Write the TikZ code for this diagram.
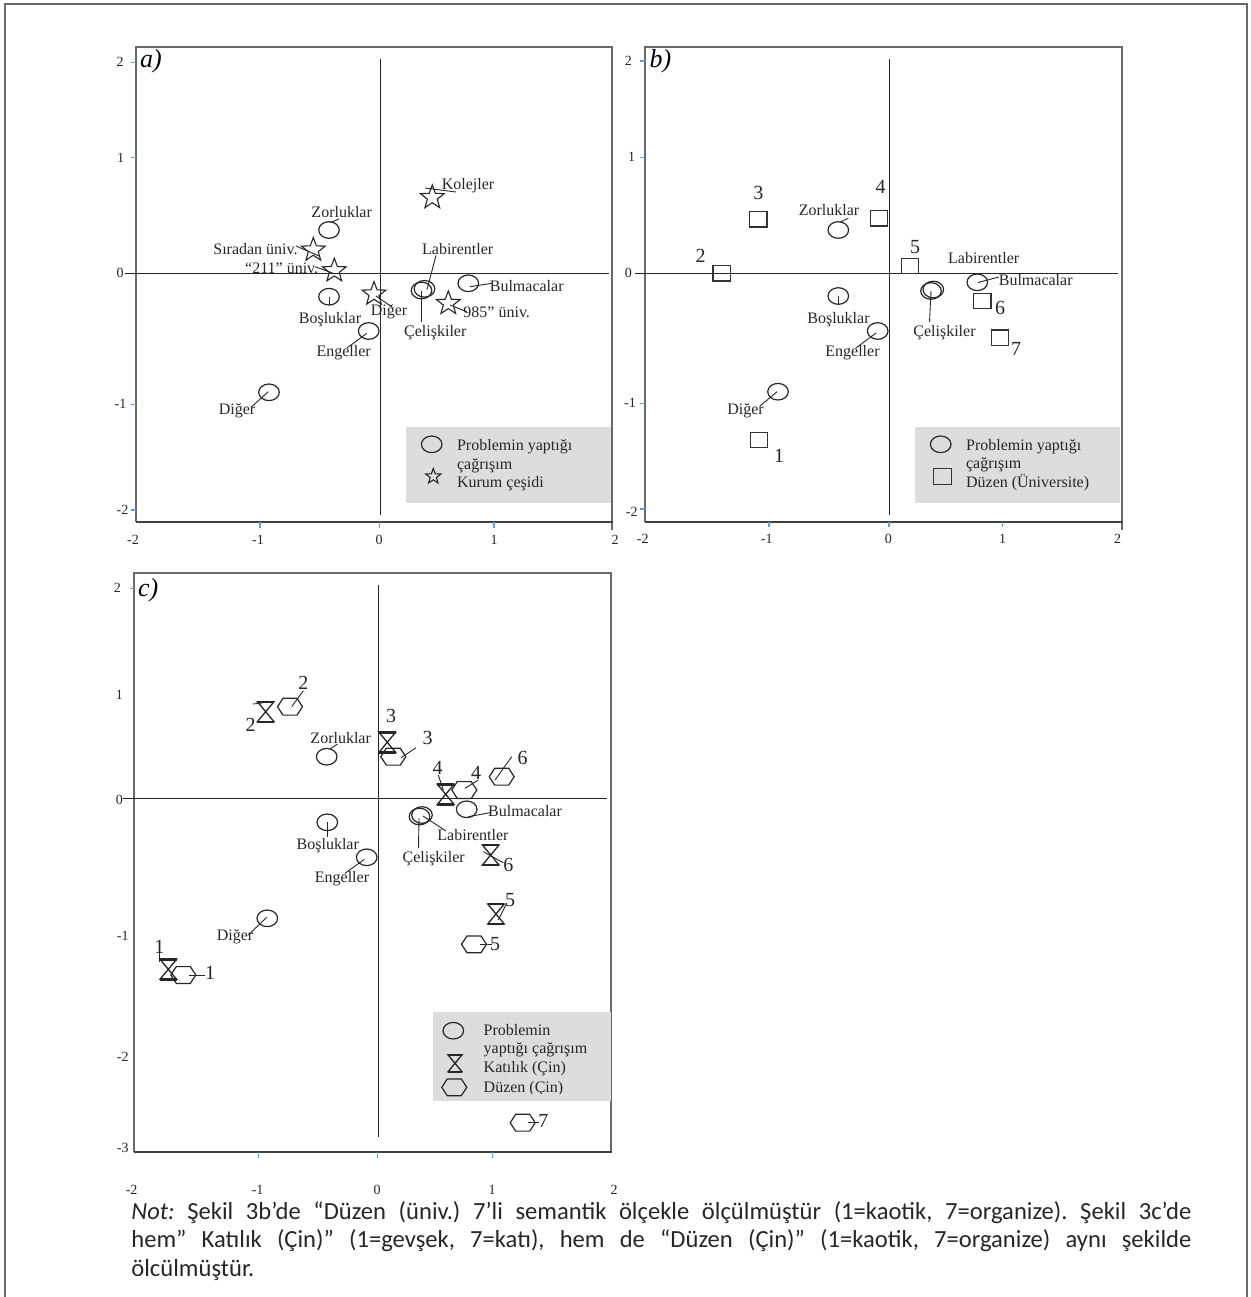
\documentclass[tikz,border=0pt]{standalone}
\usepackage{fontspec}
\setmainfont{Liberation Serif}
\newfontfamily\notefont{Carlito}
\usetikzlibrary{shapes.geometric}
\definecolor{framegray}{RGB}{105,105,105}
\definecolor{tickblue}{RGB}{100,160,225}
\definecolor{leggray}{RGB}{220,221,223}
\frenchspacing
\tikzset{
 frm/.style={draw=framegray, line width=1pt},
 baseax/.style={draw=black!75, line width=1pt},
 ax/.style={draw=black!85, line width=0.6pt},
 tk/.style={draw=tickblue, line width=0.6pt},
 ticklbl/.style={font=\fontsize{7}{8}\selectfont, text=black!85, inner sep=0pt},
 lbl/.style={font=\fontsize{8}{9}\selectfont, text=black!85, inner sep=0pt, text height=5.5pt, text depth=0.8pt},
 numlbl/.style={font=\fontsize{10}{11}\selectfont, text=black!85, inner sep=0pt},
 panlbl/.style={font=\fontsize{13}{14}\selectfont\itshape, inner sep=0pt},
 leg/.style={fill=leggray, draw=none},
 legtxt/.style={font=\fontsize{8}{9}\selectfont, text=black!85, inner sep=0pt, anchor=west, text height=5.5pt, text depth=0.8pt},
 ell/.style={ellipse, draw=black!85, line width=0.6pt, minimum width=10.3pt, minimum height=8.3pt, inner sep=0pt},
 sq/.style={rectangle, draw=black!80, line width=0.7pt, minimum width=8.7pt, minimum height=7.7pt, inner sep=0pt},
 strs/.style={star, star points=5, star point ratio=2.4, draw=black!85, line width=0.55pt, minimum size=12.5pt, inner sep=0pt},
 leader/.style={draw=black!85, line width=0.45pt},
 hexa/.pic={\draw[draw=black!85, line width=0.6pt] (-12.5,0)--(-7,-8.4)--(7,-8.4)--(12.5,0)--(7,8.4)--(-7,8.4)--cycle;},
 hglass/.pic={\draw[draw=black!85, line width=0.65pt] (-8.3,-10)--(8.3,-10)--(-8.3,10)--(8.3,10)--cycle;
   \draw[line width=1.2pt, black!85] (-8.3,-10)--(8.3,-10) (-8.3,10)--(8.3,10);},
}
\begin{document}
\begin{tikzpicture}[x=0.5pt,y=-0.5pt]
\useasboundingbox (0,0) rectangle (1250,1297);
% outer frame
\draw[frm] (5,1297)--(5,3.5)--(1246.5,3.5)--(1246.5,1297);

%%%%%%%%%%%%%%%% PANEL A
\draw[frm] (135.7,522)--(135.7,46.7)--(611.7,46.7)--(611.7,530);
\draw[baseax] (135.7,522)--(612.5,522);
\foreach \y in {62.3,157.7,404.3,510} \draw[tk] (131,\y)--(135.7,\y);
\foreach \x in {260,379.3,494} \draw[tk] (\x,522)--(\x,527.5);
\foreach \t/\x/\y [count=\i] in {2/120/62.3,1/120.5/157.7,0/120/273.3,-1/120.5/404.3,-2/122.5/510}
  \node[ticklbl] (tya\i) at (\x,\y) {\t};
\foreach \t/\x [count=\i] in {-2/133,-1/258,0/379,1/494,2/615}
  \node[ticklbl] (txa\i) at (\x,540) {\t};
\node[panlbl] (pa) at (151,61) {a)};
\draw[ax] (380.5,59.3)--(380.5,515);
\draw[ax] (125,273.5)--(609,273.5);
% symbols
\node[ell] (zorA) at (329,230) {};
\node[ell] (bosA) at (329,296.7) {};
\node[ell] (engA) at (368.7,331) {};
\node[ell] (digA) at (269,392.3) {};
\node[ell] (bulA) at (468.3,283.3) {};
\node[ell] (labA) at (421.5,290.5) {};
\node[ell] (celA) at (424.5,288.8) {};
\node[strs] (kolA) at (432.3,197.5) {};
\node[strs] (sirA) at (313.3,250) {};
\node[strs] (uA) at (334.3,270.7) {};
\node[strs] (diA) at (374,294) {};
\node[strs] (nA) at (448.3,303.4) {};
% labels
\node[lbl] (kolAl) at (468,185) {Kolejler};
\node[lbl] (zorAl) at (341.7,212.7) {Zorluklar};
\node[lbl] (sirAl) at (255.5,249.3) {Sıradan üniv.};
\node[lbl] (uAl) at (281.7,268.3) {“211” üniv.};
\node[lbl] (bulAl) at (526.7,286.7) {Bulmacalar};
\node[lbl] (labAl) at (457.7,250) {Labirentler};
\node[lbl] (celAl) at (435.3,332) {Çelişkiler};
\node[lbl] (diAl) at (389,311) {Diğer};
\node[lbl] (nAl) at (496.7,312.3) {985” üniv.};
\node[lbl] (bosAl) at (330,319) {Boşluklar};
\node[lbl] (engAl) at (343.7,351.7) {Engeller};
\node[lbl] (digAl) at (237,410) {Diğer};
% leaders
\draw[leader] (425,188)--(456,192);
\draw[leader] (330,222.7)--(339,219);
\draw[leader] (296,246)--(319,256);
\draw[leader] (315,266.7)--(333.3,273.3);
\draw[leader] (470,286.7)--(491.7,283.3);
\draw[leader] (436,255.5)--(427,289.5);
\draw[leader] (421,291)--(421,322);
\draw[leader] (376,296)--(392,307);
\draw[leader] (450,305)--(466.7,311.7);
\draw[leader] (bosA.center)--(329,305);
\draw[leader] (366.7,333.3)--(346.7,348.3);
\draw[leader] (268.3,391.7)--(251.7,406.7);
% legend
\path[leg] (406,427.3) rectangle (610.7,503.3);
\node[ell] (lgEa) at (431.7,444.3) {};
\node[strs, minimum size=8pt] (lgSa) at (433.3,476.5) {};
\node[legtxt] (lgT1a) at (456.7,445.7) {Problemin yaptığı};
\node[legtxt] (lgT2a) at (456.7,464.3) {çağrışım};
\node[legtxt] (lgT3a) at (456.7,482.7) {Kurum çeşidi};

%%%%%%%%%%%%%%%% PANEL B
\draw[frm] (645,521.7)--(645,46.7)--(1121.7,46.7)--(1121.7,530);
\draw[baseax] (645,521.7)--(1122.5,521.7);
\foreach \y in {61,157.3,403.3,509} \draw[tk] (640.3,\y)--(645,\y);
\foreach \x in {769,889,1002.7} \draw[tk] (\x,521.7)--(\x,527.2);
\foreach \t/\x/\y [count=\i] in {2/628.3/61,1/631.7/157.3,0/628.3/273.3,-1/630/403.3,-2/631.7/511.7}
  \node[ticklbl] (tyb\i) at (\x,\y) {\t};
\foreach \t/\x [count=\i] in {-2/642.7,-1/766.7,0/888.3,1/1002.7,2/1117.7}
  \node[ticklbl] (txb\i) at (\x,538.5) {\t};
\node[panlbl] (pb) at (660.5,61.7) {b)};
\draw[ax] (889.5,59)--(889.5,515);
\draw[ax] (635,273.5)--(1118,273.5);
% squares
\node[sq] (s3B) at (758.3,219.3) {};
\node[sq] (s4B) at (879,218.3) {};
\node[sq] (s2B) at (721.7,273.3) {};
\node[sq] (s5B) at (910,266) {};
\node[sq] (s6B) at (982.3,301) {};
\node[sq] (s7B) at (1000,337.7) {};
\node[sq] (s1B) at (759,440) {};
\node[numlbl] (n3B) at (758.3,193.3) {3};
\node[numlbl] (n4B) at (880.7,186.7) {4};
\node[numlbl] (n2B) at (700.7,256) {2};
\node[numlbl] (n5B) at (915,246.7) {5};
\node[numlbl] (n6B) at (1000,308.3) {6};
\node[numlbl] (n7B) at (1016,349.3) {7};
\node[numlbl] (n1B) at (779,455.7) {1};
% ellipses
\node[ell] (zorB) at (838.3,230) {};
\node[ell] (bosB) at (838.3,296) {};
\node[ell] (engB) at (877.7,331) {};
\node[ell] (digB) at (778,391.7) {};
\node[ell] (bulB) at (977.3,282.3) {};
\node[ell] (labB) at (931,291) {};
\node[ell] (celB) at (933.3,289.5) {};
% labels
\node[lbl] (zorBl) at (829,211) {Zorluklar};
\node[lbl] (labBl) at (983.7,258.3) {Labirentler};
\node[lbl] (bulBl) at (1035.7,280.7) {Bulmacalar};
\node[lbl] (celBl) at (944.5,332) {Çelişkiler};
\node[lbl] (bosBl) at (838.5,319) {Boşluklar};
\node[lbl] (engBl) at (852.5,351.7) {Engeller};
\node[lbl] (digBl) at (745.5,410) {Diğer};
% leaders
\draw[leader] (840,222)--(848.3,218.3);
\draw[leader] (978,282.5)--(999,277);
\draw[leader] (931,291)--(929.5,322);
\draw[leader] (bosB.center)--(838.3,305);
\draw[leader] (876,333)--(856,348);
\draw[leader] (777,391.7)--(760,406);
% legend
\path[leg] (915,427.3) rectangle (1120,503.3);
\node[ell] (lgEb) at (940.7,444.3) {};
\node[sq, minimum width=9pt, minimum height=8pt] (lgSb) at (942.3,476.7) {};
\node[legtxt] (lgT1b) at (965.7,445.7) {Problemin yaptığı};
\node[legtxt] (lgT2b) at (965.7,464) {çağrışım};
\node[legtxt] (lgT3b) at (965.7,482.3) {Düzen (Üniversite)};

%%%%%%%%%%%%%%%% PANEL C
\draw[frm] (134.3,1152.3)--(134.3,573.3)--(610.7,573.3)--(610.7,1152.3);
\draw[baseax] (134.3,1152.3)--(612,1152.3);
\draw[tk] (129.5,588.3)--(134.3,588.3);
\foreach \x in {258.3,377.7,492.3} \draw[tk] (\x,1152.3)--(\x,1157.8);
\foreach \t/\x/\y [count=\i] in {2/117.3/588.3,1/119.3/695,0/119.3/800,-1/122.7/936,-2/122.7/1057.3,-3/122.7/1148.3}
  \node[ticklbl] (tyc\i) at (\x,\y) {\t};
\foreach \t/\x [count=\i] in {-2/131.6,-1/257.6,0/377,1/492,2/614}
  \node[ticklbl] (txc\i) at (\x,1190) {\t};
\node[panlbl] (pc) at (148.3,590) {c)};
\draw[ax] (378.5,585)--(378.5,1136.7);
\draw[ax] (123.3,798.5)--(607.3,798.5);
% hourglasses and hexagons
\foreach \n/\x/\y in {h2C/265.7/711.7,h3C/387.3/742.3,h4C/445.7/794.3,h6C/490.7/855,h5C/496/914,h1C/168.3/969.3}
  {\coordinate (\n) at (\x,\y); \pic at (\n) {hglass};}
\foreach \n/\x/\y in {x2C/290/706.7,x3C/393.3/756.7,x6C/501.7/776.7,x4C/464.3/790,x5C/474/944.3,x1C/183.3/975,x7C/522.7/1122.7}
  {\coordinate (\n) at (\x,\y); \pic at (\n) {hexa};}
% ellipses
\node[ell] (zorC) at (326.7,756.7) {};
\node[ell] (bulC) at (466.7,809.3) {};
\node[ell] (labC) at (419.5,816.5) {};
\node[ell] (celC) at (422,815) {};
\node[ell] (bosC) at (327.3,822.3) {};
\node[ell] (engC) at (366.7,857.3) {};
\node[ell] (digC) at (267.3,918.3) {};
% numbers
\node[numlbl] (nh2C) at (250.7,725) {2};
\node[numlbl] (nx2C) at (303.3,683.3) {2};
\node[numlbl] (nh3C) at (391,716) {3};
\node[numlbl] (nx3C) at (427.7,737.7) {3};
\node[numlbl] (nx6C) at (522.7,757.7) {6};
\node[numlbl] (nh4C) at (437.7,768.3) {4};
\node[numlbl] (nx4C) at (476,773.3) {4};
\node[numlbl] (nh6C) at (508.3,865) {6};
\node[numlbl] (nh5C) at (510,900) {5};
\node[numlbl] (nx5C) at (495,944.3) {5};
\node[numlbl] (nh1C) at (159.3,946.7) {1};
\node[numlbl] (nx1C) at (210,973.3) {1};
\node[numlbl] (nx7C) at (543.3,1121) {7};
% labels
\node[lbl] (zorCl) at (340.7,738.3) {Zorluklar};
\node[lbl] (bulCl) at (525,811.7) {Bulmacalar};
\node[lbl] (labCl) at (473,836) {Labirentler};
\node[lbl] (celCl) at (433.7,858) {Çelişkiler};
\node[lbl] (bosCl) at (327.8,845) {Boşluklar};
\node[lbl] (engCl) at (342,877.7) {Engeller};
\node[lbl] (digCl) at (235,936) {Diğer};
% leaders
\draw[leader] (253,704)--(262,703);
\draw[leader] (291.7,706.7)--(303.3,690.7);
\draw[leader] (401,757.7)--(416,747.7);
\draw[leader] (495,780)--(511.7,756.7);
\draw[leader] (438.3,775)--(443.3,790);
\draw[leader] (465,788.3)--(478.3,780);
\draw[leader] (468.3,816.7)--(490,812.7);
\draw[leader] (423,816)--(446,831);
\draw[leader] (419,818)--(418.5,848);
\draw[leader] (330,749)--(337.5,744);
\draw[leader] (bosC.center)--(327.3,836.5);
\draw[leader] (364.3,859.3)--(345,873.3);
\draw[leader] (483.3,851.7)--(503.3,862.7);
\draw[leader] (498.3,920)--(506.7,903.3);
\draw[leader] (480,944.3)--(491.7,944.3);
\draw[leader] (266.7,917.3)--(248.3,935);
\draw[leader] (159.3,953)--(159.3,962);
\draw[leader] (189.3,975)--(205,975);
\draw[leader] (527.7,1122.7)--(539.3,1122.7);
% legend
\path[leg] (433.3,1012.3) rectangle (610.7,1100.7);
\node[ell] (lgEc) at (453.3,1030.7) {};
\coordinate (lgHc) at (455,1063.3); \pic[scale=0.85] at (lgHc) {hglass};
\coordinate (lgXc) at (454.3,1087.3); \pic at (lgXc) {hexa};
\node[legtxt] (lgT1c) at (483.3,1030.7) {Problemin};
\node[legtxt] (lgT2c) at (483.3,1049) {yaptığı çağrışım};
\node[legtxt] (lgT3c) at (483.3,1067.7) {Katılık (Çin)};
\begin{scope}
\clip (433.3,1075) rectangle (610.7,1093);
\node[legtxt] (lgT4c) at (483.3,1088) {Düzen (Çin)};
\end{scope}

%%%%%%%%%%%%%%%% NOTE
\begin{scope}[every node/.style={anchor=base west, inner sep=0pt, font=\notefont\fontsize{12.3}{14}\selectfont, text=black!85}]
\node (note1) at (131,1219) {\hbox to 530pt{\textit{Not:} Şekil 3b’de “Düzen (üniv.) 7’li semantik ölçekle ölçülmüştür (1=kaotik, 7=organize). Şekil 3c’de}};
\node (note2) at (131,1247.5) {\hbox to 530pt{hem”  Katılık (Çin)” (1=gevşek, 7=katı), hem de “Düzen (Çin)” (1=kaotik, 7=organize) aynı şekilde}};
\node (note3) at (131,1276) {ölcülmüştür.};
\end{scope}
\end{tikzpicture}
\end{document}
